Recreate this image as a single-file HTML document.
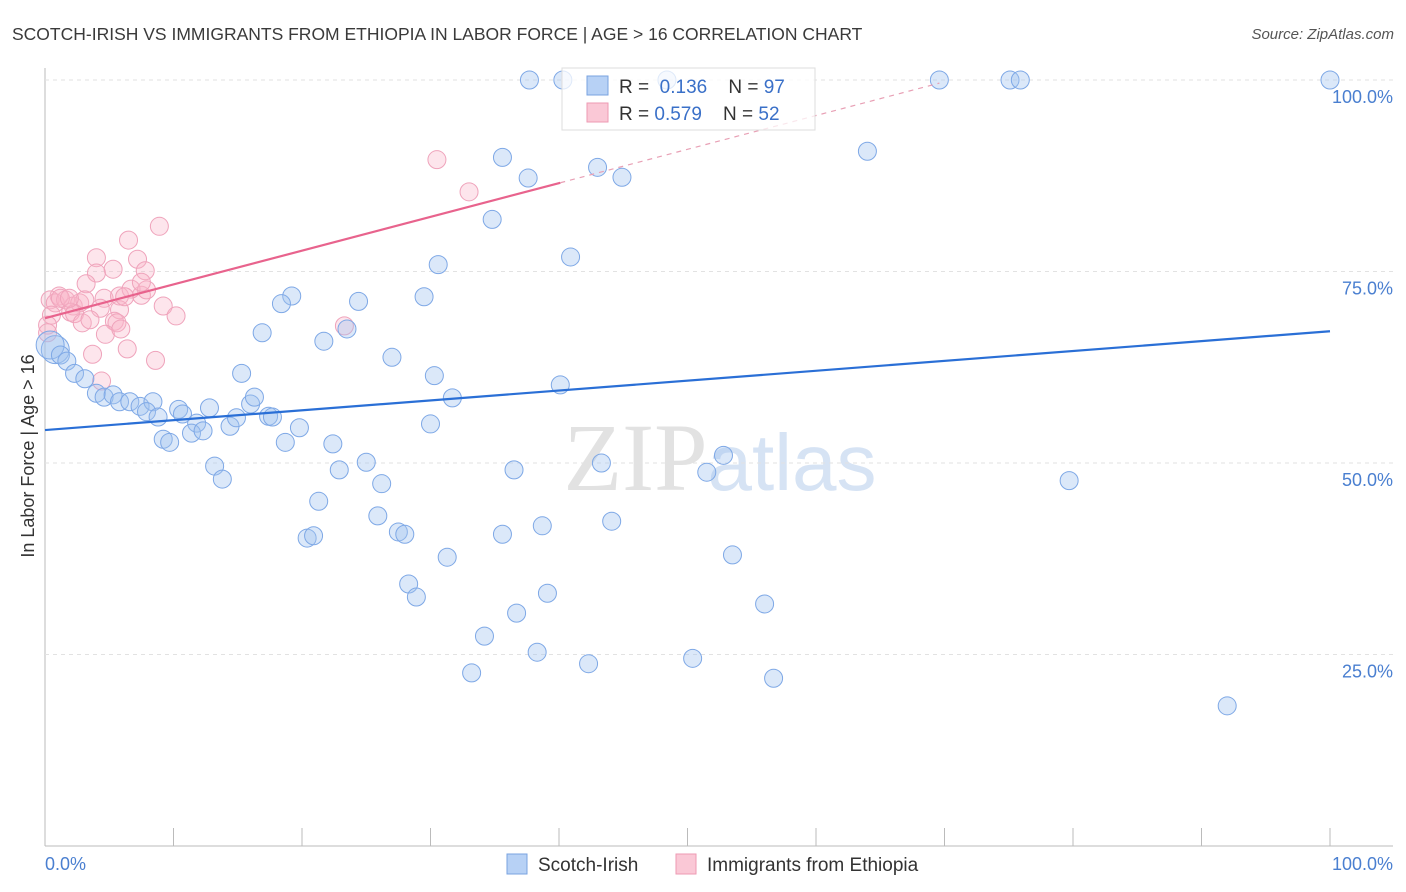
<!DOCTYPE html>
<html><head><meta charset="utf-8"><style>
body{margin:0;background:#fff;font-family:"Liberation Sans",sans-serif}
#wrap{position:relative;width:1406px;height:892px;overflow:hidden}
</style></head><body>
<div id="wrap">
<svg id="svg" width="1406" height="892" xmlns="http://www.w3.org/2000/svg" font-family="Liberation Sans, sans-serif">
<text x="12" y="40" font-size="17.5" fill="#3a3a3a">SCOTCH-IRISH VS IMMIGRANTS FROM ETHIOPIA IN LABOR FORCE | AGE &gt; 16 CORRELATION CHART</text>
<text x="1394" y="39" font-size="15" fill="#555" font-style="italic" text-anchor="end">Source: ZipAtlas.com</text>
<text x="720" y="490" font-size="96" fill="#e2e2e2" text-anchor="middle" font-family="Liberation Serif, serif">ZIP<tspan fill="#d6e3f4" font-family="Liberation Sans, sans-serif" font-size="80">atlas</tspan></text>
<g id="grid"></g>
<g id="pts"></g>
<g id="lines"></g>
<text transform="translate(34,456) rotate(-90)" font-size="18" fill="#333" text-anchor="middle">In Labor Force | Age &gt; 16</text>
<text x="45" y="870" font-size="18" fill="#4a7fd0">0.0%</text>
<text x="1393" y="870" font-size="18" fill="#4a7fd0" text-anchor="end">100.0%</text>
<g>
<rect x="562" y="68" width="253" height="62" fill="rgba(255,255,255,0.75)" stroke="#ddd"/>
<rect x="587" y="76" width="21" height="19" fill="#b7d1f5" stroke="#7aa3e0"/>
<text x="619" y="93" font-size="19" fill="#333" xml:space="preserve">R =  <tspan fill="#3a70c8">0.136</tspan>    N = <tspan fill="#3a70c8">97</tspan></text>
<rect x="587" y="103" width="21" height="19" fill="#fac8d6" stroke="#ee9ab3"/>
<text x="619" y="120" font-size="19" fill="#333" xml:space="preserve">R = <tspan fill="#3a70c8">0.579</tspan>    N = <tspan fill="#3a70c8">52</tspan></text>
</g>
<g>
<rect x="507" y="854" width="20" height="20" fill="#b7d1f5" stroke="#7aa3e0"/>
<text x="538" y="871" font-size="19" fill="#333">Scotch-Irish</text>
<rect x="676" y="854" width="20" height="20" fill="#fac8d6" stroke="#ee9ab3"/>
<text x="707" y="871" font-size="19" fill="#333">Immigrants from Ethiopia</text>
</g>
</svg>
</div>
<script>
const yTicks=[25,50,75,100];
const yTickLabels=["25.0%","50.0%","75.0%","100.0%"];
const xTicks=[0,10,20,30,40,50,60,70,80,90,100];
const blueX=[37.7,40.3,48.4,69.6,75.1,75.9,100,35.6,64.0,43.0,37.6,44.9,34.8,40.9,30.6,19.2,18.4,24.4,29.5,23.5,16.9,21.7,27.0,0.8,0.4,1.2,1.7,2.3,3.1,40.1,15.3,30.3,31.7,4.0,4.6,5.3,5.8,6.6,7.4,8.4,7.9,8.8,10.4,10.7,12.8,11.8,14.4,14.9,16.0,16.3,17.4,17.7,9.2,9.7,11.4,12.3,19.8,18.7,22.4,30.0,13.2,13.8,25.0,22.9,26.2,36.5,43.3,51.5,52.8,79.7,21.3,25.9,27.5,28.0,20.4,20.9,35.6,38.7,44.1,53.5,31.3,28.3,28.9,39.1,36.7,56.0,34.2,38.3,42.3,50.4,33.2,56.7,92.0];
const blueY=[100,100,100,100,100,100,100,89.9,90.7,88.6,87.2,87.3,81.8,76.9,75.9,71.8,70.8,71.1,71.7,67.5,67.0,65.9,63.8,64.8,65.4,64.1,63.3,61.7,61.0,60.2,61.7,61.4,58.5,59.1,58.6,58.9,58.0,58.0,57.4,58.0,56.7,56.0,57.0,56.4,57.2,55.2,54.8,55.9,57.7,58.6,56.1,56.0,53.1,52.7,53.9,54.2,54.6,52.7,52.5,55.1,49.6,47.9,50.1,49.1,47.3,49.1,50.0,48.8,51.0,47.7,45.0,43.1,41.0,40.7,40.2,40.5,40.7,41.8,42.4,38.0,37.7,34.2,32.5,33.0,30.4,31.6,27.4,25.3,23.8,24.5,22.6,21.9,18.3];
const pinkX=[30.5,33.0,8.9,6.5,4.0,7.2,5.3,4.0,7.8,3.2,1.1,0.4,0.8,1.6,2.2,2.7,4.6,5.8,7.5,6.7,7.9,2.0,2.3,4.3,5.8,6.2,9.2,10.2,0.5,0.2,0.2,2.9,5.4,5.6,4.7,5.9,6.4,3.7,8.6,4.4,23.3,3.5,1.2,3.1,7.5,1.9];
const pinkY=[89.6,85.4,80.9,79.1,76.8,76.6,75.3,74.8,75.1,73.4,71.8,71.3,70.9,71.3,70.5,70.9,71.5,71.8,71.9,72.7,72.6,69.7,69.5,70.2,70.0,71.7,70.5,69.2,69.3,68.0,67.0,68.3,68.5,68.3,66.8,67.5,64.9,64.2,63.4,60.7,67.9,68.7,71.5,71.3,73.6,71.5];
const blueFit=[54.3,0.129];
const pinkFit=[68.9,0.441];
const NS="http://www.w3.org/2000/svg";
const X0=45,X1=1330,Y0=846,Y100=80;
const sx=v=>X0+(X1-X0)*v/100;
const sy=v=>Y0-(Y0-Y100)*v/100;
function mk(tag,attrs,parent){const e=document.createElementNS(NS,tag);for(const k in attrs)e.setAttribute(k,attrs[k]);parent.appendChild(e);return e;}
const grid=document.getElementById('grid');
let ax=mk('line',{x1:X0,y1:68,x2:X0,y2:Y0,stroke:'#bbb'},grid);


let bx=mk('line',{x1:X0,y1:Y0,x2:1393,y2:Y0,stroke:'#bbb'},grid);


yTicks.forEach((t,i)=>{
 let g=mk('line',{x1:X0,y1:sy(t),x2:1393,y2:sy(t),stroke:'#e2e2e2','stroke-dasharray':'4,4'},grid);
 
 
 let tx=mk('text',{x:1393,y:sy(t)+23,'font-size':18,fill:'#4a7fd0','text-anchor':'end'},grid);
 tx.textContent=yTickLabels[i];
 
 
});
xTicks.forEach(t=>{
 let l=mk('line',{x1:sx(t),y1:828,x2:sx(t),y2:Y0,stroke:'#bbb'},grid);
 
 
});
const pts=document.getElementById('pts');
function dots(xs,ys,fill,stroke,name){
 xs.forEach((x,i)=>{
  const big=(x<1&&ys[i]>64&&ys[i]<66&&name==='point-scotch-irish');
  let c=mk('circle',{cx:sx(x),cy:sy(ys[i]),r:big?14:9,fill:fill,stroke:stroke,'stroke-width':1},pts);
  
  
 });
}
dots(pinkX,pinkY,'rgba(248,180,200,0.35)','#efa3bb','point-ethiopia');
dots(blueX,blueY,'rgba(160,195,240,0.38)','#7ea8e6','point-scotch-irish');
const lines=document.getElementById('lines');
let bl=mk('line',{x1:sx(0),y1:sy(blueFit[0]),x2:sx(100),y2:sy(blueFit[0]+100*blueFit[1]),stroke:'#2a6fd6','stroke-width':2.2},lines);


const pEnd=40.1,pDash=69.6;
let pl=mk('line',{x1:sx(0),y1:sy(pinkFit[0]),x2:sx(pEnd),y2:sy(pinkFit[0]+pEnd*pinkFit[1]),stroke:'#e8638d','stroke-width':2.2},lines);


let pd=mk('line',{x1:sx(pEnd),y1:sy(pinkFit[0]+pEnd*pinkFit[1]),x2:sx(pDash),y2:sy(pinkFit[0]+pDash*pinkFit[1]),stroke:'#e8a0b5','stroke-width':1.2,'stroke-dasharray':'5,5'},lines);


</script>
</body></html>
